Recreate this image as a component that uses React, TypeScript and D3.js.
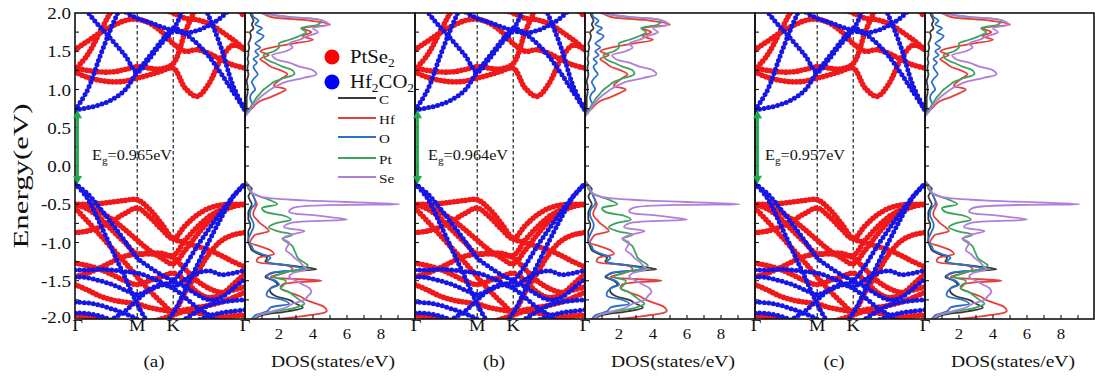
import React from 'react'
import * as d3 from 'd3'

const W = 1095, H = 379
const TOP = 13, BOTTOM = 319
const BAND_W = 170, DOS_W = 170
const FONT = 'Liberation Serif'
const SX = 1.12

const panelLeft = [75, 415, 755]
const panelNames = ['(a)', '(b)', '(c)']
const gapText = ['0.965', '0.964', '0.957']
const gapValue = [0.965, 0.964, 0.957]
const cbmValue = [0.73, 0.73, 0.725]
const egLabelX = [92, 428, 765]

// k path Γ-M-K-Γ (hexagonal, path length units)
const kPath = [0, 0.115, 0.231, 0.346, 0.462, 0.577, 0.688, 0.8, 0.911, 1.022, 1.133, 1.244, 1.355, 1.466, 1.577]
const kLabels: [string, number][] = [['M', 0.577], ['K', 0.911], ['Γ', 1.577]]
const kDashed = [0.577, 0.911]
const energyTicks = [2.0, 1.5, 1.0, 0.5, 0.0, -0.5, -1.0, -1.5, -2.0]
const dosTicks = [2, 4, 6, 8]

// PtSe2 bands (red), energies on kPath
const ptse2Bands = [
  [1.52, 1.63, 1.74, 1.83, 1.90, 1.92, 1.87, 1.76, 1.60, 1.50, 1.52, 1.47, 1.39, 1.32, 1.28],
  [1.23, 1.16, 1.12, 1.10, 1.11, 1.15, 1.19, 1.24, 1.28, 1.02, 0.91, 1.08, 1.40, 1.58, 1.52],
  [1.28, 1.25, 1.23, 1.23, 1.26, 1.30, 1.28, 1.27, 1.34, 1.75, 2.10, 2.40, 2.55, 2.60, 2.60],
  [2.60, 2.50, 2.40, 2.30, 2.20, 2.15, 2.10, 2.05, 2.00, 1.93, 1.91, 1.86, 1.76, 1.65, 1.52],
  [1.26, 1.45, 1.75, 2.05, 2.30, 2.40, 2.45, 2.45, 2.45, 2.45, 2.40, 2.35, 2.25, 2.10, 1.95],
  [-0.50, -0.50, -0.49, -0.47, -0.45, -0.44, -0.56, -0.75, -0.95, -1.00, -1.05, -1.10, -1.17, -1.25, -1.32],
  [-0.50, -0.53, -0.60, -0.70, -0.83, -0.97, -1.10, -1.20, -1.28, -1.10, -0.90, -0.72, -0.60, -0.53, -0.50],
  [-0.50, -0.56, -0.68, -0.84, -1.00, -1.15, -1.14, -1.14, -1.17, -0.97, -0.80, -0.66, -0.57, -0.52, -0.50],
  [-0.87, -0.85, -0.80, -0.72, -0.62, -0.55, -0.66, -0.82, -0.95, -0.78, -0.64, -0.55, -0.51, -0.50, -0.50],
  [-0.55, -0.72, -0.90, -1.08, -1.26, -1.45, -1.62, -1.78, -1.90, -1.65, -1.40, -1.15, -0.98, -0.90, -0.87],
  [-1.27, -1.30, -1.35, -1.42, -1.50, -1.55, -1.50, -1.45, -1.40, -1.50, -1.65, -1.72, -1.68, -1.55, -1.40],
  [-1.55, -1.62, -1.70, -1.75, -1.78, -1.80, -1.85, -1.88, -1.90, -1.88, -1.85, -1.82, -1.78, -1.72, -1.65],
  [-1.45, -1.40, -1.33, -1.25, -1.18, -1.15, -1.15, -1.16, -1.20, -1.35, -1.50, -1.60, -1.65, -1.62, -1.58],
  [-1.95, -1.97, -2.00, -2.05, -2.10, -2.10, -2.05, -2.00, -1.95, -1.90, -1.92, -1.95, -1.97, -1.96, -1.95],
]

// Hf2CO2 bands (blue)
const hf2co2Bands = [
  [0.73, 0.76, 0.80, 0.87, 0.99, 1.23, 1.43, 1.63, 1.80, 1.73, 1.60, 1.43, 1.21, 0.97, 0.73],
  [0.73, 0.99, 1.43, 1.84, 2.20, 2.50, 2.70, 2.80, 2.80, 2.60, 2.30, 1.95, 1.55, 1.05, 0.73],
  [2.30, 2.02, 1.82, 1.64, 1.45, 1.23, 1.40, 1.60, 1.78, 2.10, 2.40, 2.60, 2.70, 2.80, 2.80],
  [2.70, 2.50, 2.30, 2.15, 2.02, 1.93, 1.88, 1.82, 1.77, 1.74, 1.77, 1.84, 1.94, 2.10, 2.30],
  [-0.23, -0.36, -0.55, -0.76, -0.98, -1.20, -1.32, -1.42, -1.50, -1.58, -1.68, -1.75, -1.72, -1.60, -1.48],
  [-0.23, -0.42, -0.75, -1.10, -1.45, -1.80, -2.05, -2.10, -1.92, -1.62, -1.30, -0.98, -0.68, -0.40, -0.23],
  [-1.45, -1.46, -1.50, -1.55, -1.62, -1.68, -1.62, -1.56, -1.50, -1.30, -1.05, -0.82, -0.60, -0.40, -0.23],
  [-1.36, -1.36, -1.35, -1.36, -1.38, -1.40, -1.45, -1.52, -1.58, -1.48, -1.40, -1.37, -1.42, -1.40, -1.36],
  [-1.78, -1.79, -1.82, -1.87, -1.93, -2.00, -2.10, -2.15, -2.10, -2.00, -1.90, -1.82, -1.78, -1.76, -1.75],
  [-1.92, -1.93, -1.96, -2.02, -2.10, -2.20, -2.30, -2.30, -2.20, -2.10, -2.02, -1.96, -1.92, -1.90, -1.88],
  [-2.30, -2.20, -2.10, -2.00, -1.90, -1.75, -1.62, -1.55, -1.60, -1.72, -1.85, -1.95, -2.05, -2.10, -2.10],
]

// PDOS energy grids
const dosValE = [-2.0, -1.95, -1.9, -1.85, -1.8, -1.75, -1.7, -1.65, -1.6, -1.55, -1.5, -1.45, -1.4, -1.35, -1.3, -1.25, -1.2, -1.15, -1.1, -1.05, -1.0, -0.95, -0.9, -0.85, -0.8, -0.75, -0.7, -0.65, -0.6, -0.55, -0.5, -0.45, -0.4, -0.35, -0.3, -0.25, -0.2]
const dosCondE = [0.65, 0.7, 0.75, 0.8, 0.85, 0.9, 0.95, 1.0, 1.05, 1.1, 1.15, 1.2, 1.25, 1.3, 1.35, 1.4, 1.45, 1.5, 1.55, 1.6, 1.65, 1.7, 1.75, 1.8, 1.85, 1.9, 1.95, 2.0]

const cVal = [0.5, 1.0, 2.5, 3.4, 3.0, 2.6, 1.8, 1.5, 1.5, 1.9, 1.7, 1.2, 1.6, 4.2, 2.6, 1.2, 1.3, 0.8, 0.4, 0.3, 0.2, 0.2, 0.2, 0.2, 0.3, 0.3, 0.2, 0.2, 0.2, 0.3, 0.4, 0.3, 0.2, 0.3, 0.4, 0.2, 0]
const hfVal = [2.0, 3.8, 4.8, 4.7, 4.2, 3.6, 3.2, 2.6, 2.1, 2.2, 4.5, 1.5, 2.3, 2.8, 2.5, 0.7, 0.8, 1.7, 1.5, 0.9, 0.3, 0.4, 0.6, 1.4, 1.2, 0.9, 0.7, 0.5, 0.5, 0.6, 0.7, 0.6, 0.5, 0.4, 0.3, 0.15, 0]
const oVal = [0.4, 0.6, 1.3, 1.5, 2.6, 2.2, 1.3, 1.3, 1.5, 2.0, 1.8, 1.3, 1.5, 3.6, 2.5, 1.3, 1.5, 1.0, 0.5, 0.4, 0.2, 0.2, 0.3, 0.4, 0.5, 0.5, 0.4, 0.3, 0.3, 0.4, 0.6, 0.6, 0.5, 0.4, 0.3, 0.2, 0]
const ptVal = [0.5, 0.8, 1.8, 3.0, 3.5, 3.2, 2.9, 2.6, 2.1, 2.3, 2.4, 1.7, 2.2, 3.2, 3.7, 3.4, 3.1, 3.0, 2.9, 2.8, 2.5, 2.2, 2.8, 1.9, 1.4, 1.8, 2.7, 2.3, 1.2, 1.0, 1.9, 1.5, 0.9, 0.4, 0.2, 0.1, 0]
const seVal = [0.5, 0.8, 1.6, 2.4, 2.8, 3.5, 3.7, 3.9, 3.8, 3.4, 3.0, 2.6, 2.8, 3.6, 3.4, 3.2, 2.9, 2.7, 2.4, 2.5, 2.6, 2.2, 2.7, 3.5, 2.3, 2.6, 6.0, 4.3, 2.6, 2.8, 9.1, 3.5, 0.9, 0.4, 0.3, 0.15, 0]

const cCond = [0, 0.05, 0.1, 0.1, 0.1, 0.1, 0.15, 0.15, 0.15, 0.1, 0.15, 0.2, 0.15, 0.15, 0.2, 0.15, 0.2, 0.2, 0.25, 0.2, 0.3, 0.35, 0.3, 0.5, 0.4, 0.5, 0.4, 0.3]
const hfCond = [0, 0.15, 0.4, 0.6, 0.9, 1.5, 2.0, 2.4, 1.7, 1.9, 2.2, 2.5, 2.1, 1.5, 1.2, 0.9, 1.4, 0.9, 1.6, 2.8, 4.0, 3.4, 3.9, 3.4, 5.0, 3.8, 1.5, 1.0]
const oCond = [0, 0.1, 0.25, 0.45, 0.35, 0.3, 0.4, 0.6, 0.5, 0.4, 0.55, 0.75, 0.6, 0.5, 0.7, 0.5, 0.8, 0.6, 0.9, 0.6, 0.9, 1.1, 0.7, 1.0, 0.6, 0.8, 0.5, 0.4]
const ptCond = [0, 0.15, 0.3, 0.4, 0.55, 0.7, 0.9, 1.1, 1.4, 1.7, 2.3, 2.9, 2.8, 2.2, 1.7, 1.2, 1.1, 1.7, 2.0, 2.0, 2.6, 3.2, 3.6, 3.3, 4.3, 4.5, 2.4, 1.0]
const seCond = [0, 0.2, 0.35, 0.5, 0.7, 0.9, 1.2, 1.5, 1.9, 2.4, 3.4, 4.2, 4.0, 3.2, 2.6, 1.8, 1.6, 2.4, 2.8, 2.6, 3.2, 3.7, 4.3, 4.0, 4.9, 4.6, 2.6, 0.9]

const species = [
  { name: 'C', color: '#3a3a3a', val: cVal, cond: cCond },
  { name: 'Hf', color: '#e5403d', val: hfVal, cond: hfCond },
  { name: 'O', color: '#2b73c8', val: oVal, cond: oCond },
  { name: 'Pt', color: '#3ba55c', val: ptVal, cond: ptCond },
  { name: 'Se', color: '#b17ed9', val: seVal, cond: seCond },
]

const RED = '#f01818', BLUE = '#1616e6', GREEN = '#1fa84a'

const y = d3.scaleLinear().domain([-2, 2]).range([BOTTOM, TOP])
const minorE = d3.range(-1.75, 2, 0.25)

function T({ x, y, size, anchor = 'start', children }: any) {
  return (
    <text transform={`translate(${x},${y}) scale(${SX},1)`} textAnchor={anchor}
      style={{ fontFamily: FONT, fontSize: size }} fill="#111">{children}</text>
  )
}

function Panel({ p }: { p: number }) {
  const x0 = panelLeft[p]
  const dosW = p === 2 ? DOS_W - 1 : DOS_W
  const xb = d3.scaleLinear().domain([0, kPath[kPath.length - 1]]).range([x0, x0 + BAND_W])
  const xd = d3.scaleLinear().domain([0, 10]).range([x0 + BAND_W, x0 + BAND_W + DOS_W])
  const band = d3.line<number>().x((_, i) => xb(kPath[i])).y(e => y(e)).curve(d3.curveCatmullRom.alpha(0.5))
  const dos = (E: number[]) => d3.line<number>().x(d => xd(d)).y((_, i) => y(E[i])).curve(d3.curveCatmullRom.alpha(0.5))
  const top = y(cbmValue[p]), bot = y(cbmValue[p] - gapValue[p])
  const ax = x0 + 2.5
  return (
    <g>
      <defs>
        <clipPath id={`cb${p}`}><rect x={x0} y={TOP} width={BAND_W} height={BOTTOM - TOP} /></clipPath>
        <clipPath id={`cd${p}`}><rect x={x0 + BAND_W} y={TOP} width={dosW} height={BOTTOM - TOP} /></clipPath>
      </defs>
      {kDashed.map(k => (
        <line key={k} x1={xb(k)} x2={xb(k)} y1={TOP} y2={BOTTOM} stroke="#111" strokeWidth={1.1} strokeDasharray="3.5,2.5" />
      ))}
      <g clipPath={`url(#cb${p})`}>
        {[...ptse2Bands, ...hf2co2Bands].map((b, i) => (
          <path key={'l' + i} d={band(b) || ''} fill="none" stroke="#86abd8" strokeWidth={0.9} />
        ))}
        {ptse2Bands.map((b, i) => (
          <path key={'r' + i} d={band(b) || ''} fill="none" stroke={RED} strokeWidth={5.6}
            strokeLinecap="round" strokeDasharray="0 3.9" />
        ))}
        {hf2co2Bands.map((b, i) => (
          <path key={'b' + i} d={band(b) || ''} fill="none" stroke={BLUE} strokeWidth={5}
            strokeLinecap="round" strokeDasharray="0 4.6" />
        ))}
      </g>
      <g clipPath={`url(#cd${p})`}>
        {species.map(s => (
          <g key={s.name}>
            <path d={dos(dosValE)(s.val) || ''} fill="none" stroke={s.color} strokeWidth={1.8} />
            <path d={dos(dosCondE)(s.cond) || ''} fill="none" stroke={s.color} strokeWidth={1.8} />
          </g>
        ))}
      </g>
      <rect x={x0} y={TOP} width={BAND_W} height={BOTTOM - TOP} fill="none" stroke="#111" strokeWidth={1.6} />
      <rect x={x0 + BAND_W} y={TOP} width={dosW} height={BOTTOM - TOP} fill="none" stroke="#111" strokeWidth={1.6} />
      {minorE.map(e => (
        <g key={e}>
          <line x1={x0} x2={x0 + 4} y1={y(e)} y2={y(e)} stroke="#111" strokeWidth={1.1} />
          <line x1={x0 + BAND_W} x2={x0 + BAND_W + 4} y1={y(e)} y2={y(e)} stroke="#111" strokeWidth={1.1} />
        </g>
      ))}
      {d3.range(1, 10).map(d => (
        <line key={d} x1={xd(d)} x2={xd(d)} y1={BOTTOM} y2={BOTTOM - 4} stroke="#111" strokeWidth={1.1} />
      ))}
      <line x1={ax} x2={ax} y1={top + 6} y2={bot - 6} stroke={GREEN} strokeWidth={2.8} />
      <path d={`M${ax},${top} L${ax - 4.5},${top + 8} L${ax + 4.5},${top + 8} Z`} fill={GREEN} />
      <path d={`M${ax},${bot} L${ax - 4.5},${bot - 8} L${ax + 4.5},${bot - 8} Z`} fill={GREEN} />
      <text transform={`translate(${egLabelX[p]},160) scale(${SX},1)`} style={{ fontFamily: FONT, fontSize: 14.5 }} fill="#111">
        E<tspan style={{ fontSize: 10 }} dy={4}>g</tspan><tspan dy={-4}>={gapText[p]}eV</tspan>
      </text>
      {/* first Γ nudged right on panel (a) to clear the -2.0 label */}
      <T x={xb(0) + (p === 0 ? 2.5 : 1)} y={331} size={16.5} anchor="middle">Γ</T>
      {kLabels.map(([l, k]) => <T key={l} x={xb(k)} y={331} size={16.5} anchor="middle">{l}</T>)}
      {dosTicks.map(d => <T key={d} x={xd(d)} y={339} size={15} anchor="middle">{d}</T>)}
      <T x={x0 + BAND_W / 2 - 6} y={367} size={17} anchor="middle">{panelNames[p]}</T>
      <T x={x0 + BAND_W + DOS_W / 2 + 3} y={367} size={17.5} anchor="middle">DOS(states/eV)</T>
    </g>
  )
}

export default function App() {
  const rows = [98, 118, 137, 158, 177]
  return (
    <svg width={W} height={H} style={{ position: 'absolute', left: 0, top: 0, background: '#fff' }}>
      <rect width={W} height={H} fill="#fff" />
      {panelLeft.map((_, p) => <Panel key={p} p={p} />)}
      {energyTicks.map(e => (
        <T key={e} x={71} y={y(e) + (e === -2 ? 4 : 6)} size={17} anchor="end">{e.toFixed(1)}</T>
      ))}
      <text transform={`translate(28,176) rotate(-90)`} textAnchor="middle" style={{ fontFamily: FONT, fontSize: 22 }}
        textLength={145} lengthAdjust="spacingAndGlyphs" fill="#111">Energy(eV)</text>
      <circle cx={332} cy={57} r={7.5} fill="#ff0000" />
      <circle cx={332} cy={82} r={7.5} fill="#0000ff" />
      <text transform={`translate(350,63) scale(${SX},1)`} style={{ fontFamily: FONT, fontSize: 18.5 }} fill="#111">
        PtSe<tspan style={{ fontSize: 12 }} dy={4}>2</tspan>
      </text>
      <text transform={`translate(350,88) scale(${SX},1)`} style={{ fontFamily: FONT, fontSize: 18.5 }} fill="#111">
        Hf<tspan style={{ fontSize: 12 }} dy={4}>2</tspan><tspan dy={-4}>CO</tspan><tspan style={{ fontSize: 12 }} dy={4}>2</tspan>
      </text>
      {species.map((s, i) => (
        <g key={s.name}>
          <line x1={338} x2={376} y1={rows[i]} y2={rows[i]} stroke={s.color} strokeWidth={2} />
          <T x={379} y={rows[i] + 5.5} size={13.5}>{s.name}</T>
        </g>
      ))}
    </svg>
  )
}
